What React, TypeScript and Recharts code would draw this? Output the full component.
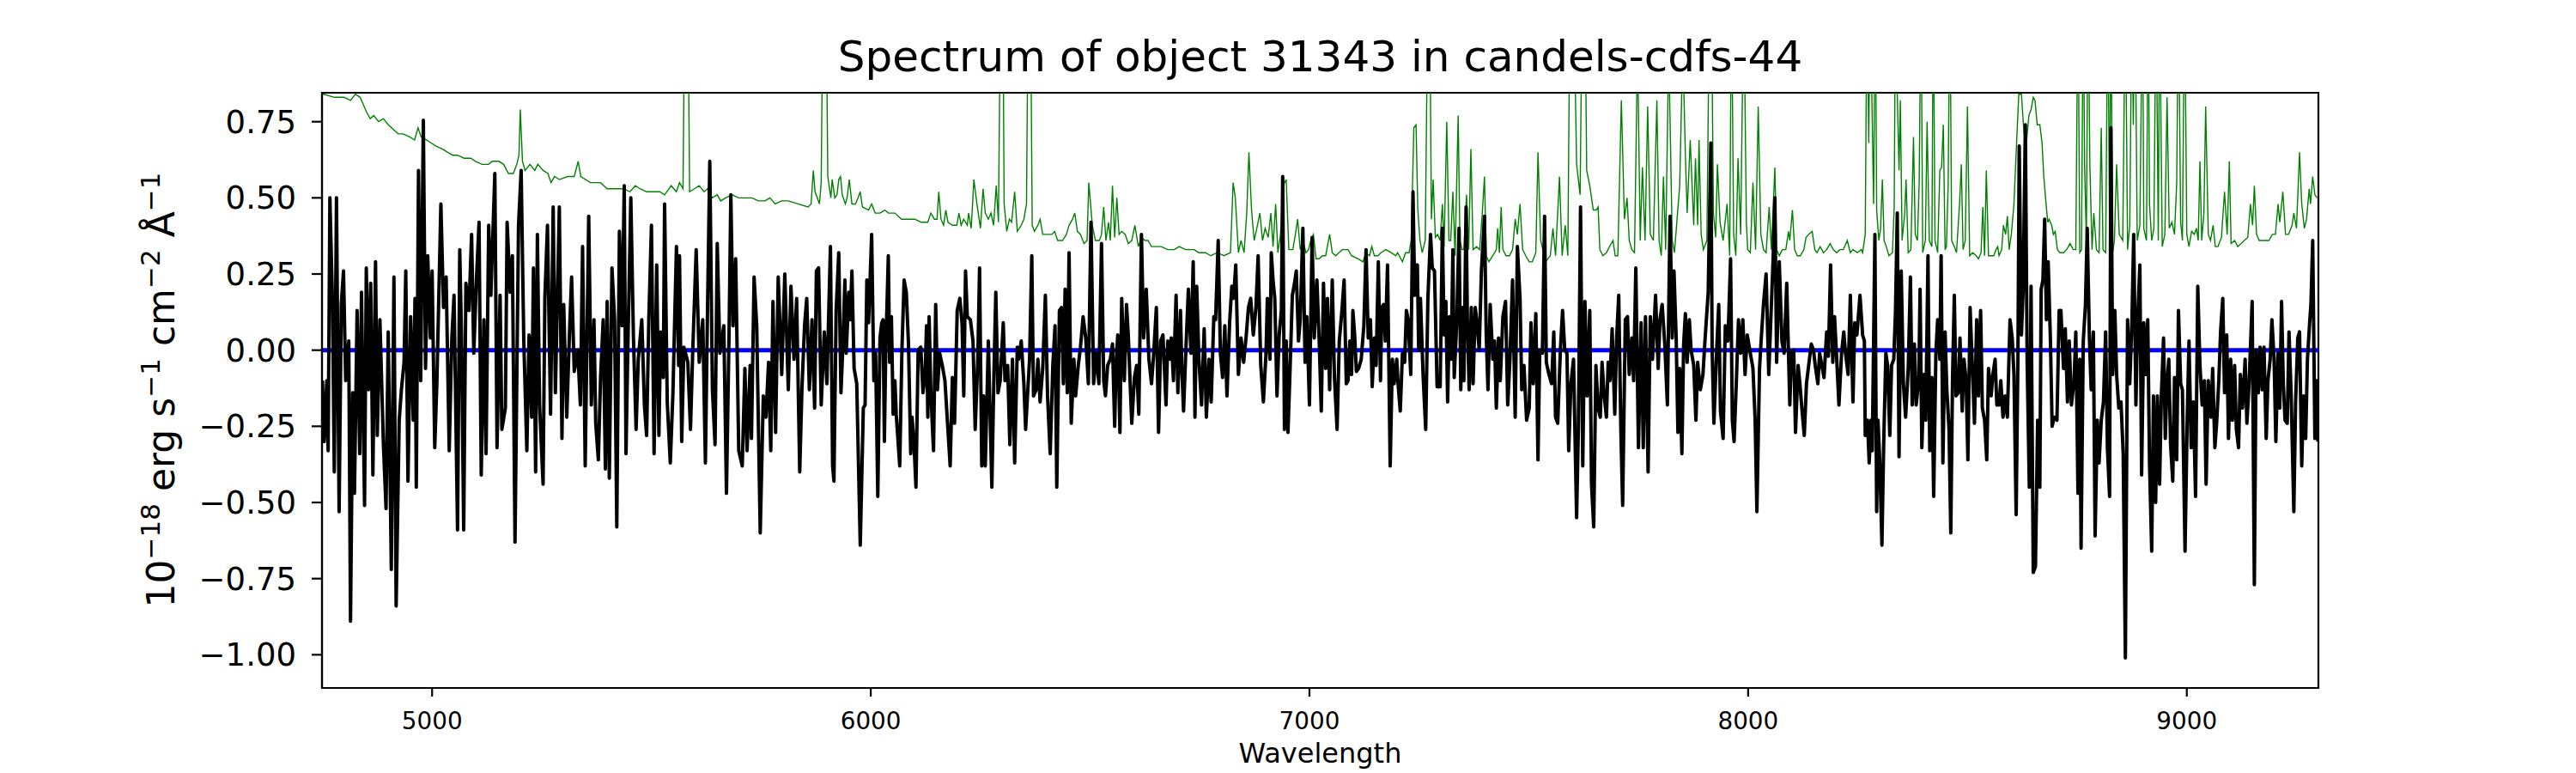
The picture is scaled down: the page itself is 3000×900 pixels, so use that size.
import React from 'react';
import { LineChart, Line, XAxis, YAxis, ReferenceArea } from 'recharts';

// Axis limits (Angstrom, 1e-18 erg/s/cm2/A)
const WAVE_MIN = 4749;
const WAVE_MAX = 9300;
const FLUX_MIN = -1.109;
const FLUX_MAX = 0.845;

const waveTicks = [5000, 6000, 7000, 8000, 9000];
const fluxTicks = [-1.0, -0.75, -0.5, -0.25, 0, 0.25, 0.5, 0.75];

const TITLE = 'Spectrum of object 31343 in candels-cdfs-44';
const X_LABEL = 'Wavelength';

// Observed flux (black), [wavelength, flux]
const fluxA = [[4750,-0.10],[4754,-0.30],[4760,-0.10],[4763,-0.33],[4767,0.50],[4773,0.15],[4777,-0.40],[4782,0.50],[4788,-0.53],[4793,0.15],[4798,0.26],[4803,-0.10],[4810,0.03],[4814,-0.89],[4819,-0.14],[4823,-0.47],[4829,0.13],[4835,-0.34],[4839,0.19],[4846,-0.51],[4850,0.27],[4855,-0.13],[4860,0.22],[4865,-0.41],[4871,0.29],[4875,-0.28],[4881,0.10],[4889,-0.31],[4895,-0.52],[4900,0.06],[4907,-0.72],[4913,0.24],[4918,-0.84],[4925,-0.23],[4930,-0.13],[4936,-0.04],[4940,0.26],[4945,-0.43],[4951,0.11],[4957,-0.23],[4961,0.17],[4964,-0.45],[4969,0.59],[4974,-0.10],[4980,0.755],[4985,-0.06],[4990,0.31],[4996,0.04],[5000,0.26],[5006,-0.32],[5011,-0.10],[5020,0.48],[5026,0.14],[5032,0.24],[5039,-0.33],[5045,0.04],[5050,0.18],[5058,-0.59],[5063,0.33],[5067,0.05],[5072,-0.59],[5077,0.22],[5084,0.13],[5090,0.38],[5095,-0.01],[5101,0.23],[5107,0.42],[5112,-0.41],[5118,0.10],[5123,-0.34],[5129,0.41],[5134,0.18],[5143,0.58],[5148,-0.32],[5155,0.18],[5159,-0.26],[5167,-0.19],[5171,0.42],[5178,0.19],[5183,0.31],[5189,-0.63],[5197,0.41],[5203,0.59],[5209,0.03],[5216,-0.33],[5221,0.05],[5227,-0.22],[5231,0.27],[5236,-0.40],[5240,0.38],[5245,-0.18],[5253,-0.44],[5257,0.17],[5263,0.41],[5270,-0.21],[5276,0.47],[5281,-0.14],[5290,0.47],[5296,-0.29],[5300,0.15],[5307,-0.22],[5313,0.05],[5318,0.24],[5324,-0.07],[5332,0.00],[5338,-0.18],[5343,0.34],[5349,-0.38],[5357,0.44],[5363,-0.18],[5369,0.10],[5373,-0.24],[5379,-0.36],[5384,-0.09],[5390,0.10],[5395,-0.39],[5399,0.16],[5404,-0.42],[5410,0.27],[5416,0.10],[5421,-0.58],[5427,0.39],[5433,0.08],[5438,0.54],[5442,-0.34],[5446,-0.01],[5453,0.50],[5459,0.04],[5465,-0.26],[5470,-0.03],[5478,0.10],[5484,-0.18],[5489,-0.28],[5494,0.10],[5500,0.41],[5506,-0.34],[5512,0.28],[5517,-0.28],[5521,0.06],[5527,-0.09],[5530,0.48],[5536,-0.17],[5543,-0.37],[5549,-0.14],[5557,0.34],[5562,-0.05],[5564,0.31],[5569,-0.30],[5574,0.01],[5583,-0.04],[5589,-0.26],[5594,-0.01],[5602,0.33],[5609,-0.04],[5617,0.10],[5623,-0.37],[5628,0.15],[5633,0.62],[5639,-0.13],[5645,-0.31],[5650,0.35],[5656,-0.01],[5665,0.08],[5671,-0.47],[5677,0.06],[5681,0.51],[5686,0.08],[5692,0.30],[5699,-0.33],[5707,-0.38],[5713,-0.06],[5718,-0.33],[5725,-0.05],[5728,-0.29],[5734,0.24],[5740,0.08],[5748,-0.60],[5755,-0.15],[5761,-0.22],[5767,-0.04],[5772,-0.33],[5777,0.16],[5783,-0.27],[5789,0.24],[5797,-0.08],[5804,0.25],[5812,-0.13],[5818,0.21],[5825,-0.03],[5831,0.17],[5838,-0.40],[5843,-0.13],[5849,0.08],[5854,0.17],[5860,-0.13],[5866,0.10],[5872,-0.19],[5876,0.26],[5881,0.27],[5887,-0.18],[5894,0.06],[5900,-0.11],[5908,0.34],[5913,-0.38]];

const fluxB = [[5916,-0.43],[5921,0.13],[5927,0.32],[5932,-0.14],[5936,0.00],[5941,0.23],[5944,-0.01],[5950,0.19],[5953,0.10],[5957,0.26],[5962,-0.06],[5968,-0.11],[5976,-0.64],[5983,-0.19],[5987,-0.18],[5991,0.23],[5995,0.09],[6002,0.38],[6007,-0.10],[6011,-0.01],[6016,-0.48],[6021,0.04],[6025,0.09],[6028,0.10],[6031,-0.30],[6034,-0.01],[6040,0.31],[6043,-0.04],[6047,0.11],[6051,-0.21],[6055,-0.10],[6058,-0.21],[6066,-0.38],[6071,0.00],[6076,0.23],[6081,0.19],[6086,0.02],[6091,-0.34],[6094,-0.22],[6098,-0.29],[6103,-0.45],[6108,0.00],[6114,0.01],[6119,-0.14],[6124,-0.08],[6127,0.08],[6130,-0.22],[6133,0.11],[6137,-0.14],[6143,-0.33],[6148,0.15],[6152,-0.13],[6157,-0.01],[6163,-0.05],[6169,-0.10],[6175,-0.24],[6181,-0.38],[6186,-0.09],[6191,-0.24],[6197,0.13],[6203,0.17],[6208,0.09],[6212,-0.15],[6216,0.26],[6220,0.11],[6227,0.10],[6233,0.03],[6238,-0.26],[6244,-0.03],[6248,0.27],[6253,-0.38],[6257,-0.15],[6261,-0.38],[6265,-0.15],[6268,0.03],[6276,-0.45],[6281,-0.06],[6285,0.19],[6290,-0.14],[6295,-0.10],[6302,0.09],[6306,-0.10],[6312,-0.05],[6317,-0.31],[6323,-0.03],[6328,-0.37],[6334,0.01],[6337,-0.03],[6343,0.03],[6349,-0.11],[6353,-0.26],[6358,-0.13],[6362,-0.03],[6367,0.31],[6371,-0.15],[6377,-0.13],[6381,-0.03],[6386,-0.17],[6392,-0.06],[6398,0.18],[6403,-0.15],[6409,-0.34],[6415,-0.05],[6420,0.08],[6424,-0.45],[6430,0.13],[6435,0.14],[6439,-0.11],[6443,0.20],[6448,-0.14],[6452,0.32],[6457,-0.24],[6463,-0.03],[6467,-0.15],[6473,-0.05],[6478,0.01],[6484,0.11],[6490,0.04],[6496,-0.11],[6502,0.42],[6508,-0.11],[6514,-0.01],[6520,-0.11],[6526,0.35],[6531,-0.10],[6535,-0.15],[6540,-0.05],[6546,-0.03],[6551,0.02],[6556,-0.25],[6559,-0.05],[6563,0.05],[6568,-0.27],[6572,0.17],[6578,-0.10],[6583,0.15],[6587,0.05],[6591,-0.10],[6595,-0.24],[6601,-0.09],[6606,-0.05],[6611,-0.21],[6617,0.38],[6622,0.04],[6628,0.20],[6634,-0.03],[6640,-0.11],[6645,-0.01],[6651,0.14],[6656,-0.27],[6661,0.03],[6666,0.05],[6673,-0.18],[6677,0.03],[6681,-0.03],[6685,0.04],[6690,-0.10],[6696,0.18],[6700,-0.14],[6706,0.13],[6709,-0.06],[6713,-0.20],[6718,-0.01],[6724,0.20],[6730,-0.01],[6735,0.29],[6739,-0.22],[6743,0.21],[6748,-0.03],[6754,-0.18],[6760,0.07],[6765,-0.22],[6771,-0.03],[6776,-0.17],[6782,0.11],[6786,0.10],[6792,0.36],[6797,-0.01],[6802,-0.09],[6807,0.08],[6812,-0.15],[6818,0.09],[6823,0.21],[6827,0.17],[6832,0.28],[6838,-0.08],[6844,0.04],[6850,-0.04],[6856,0.05],[6861,0.14],[6866,0.17],[6872,0.05],[6878,0.14],[6883,0.31],[6889,-0.05],[6895,-0.17],[6901,-0.01],[6904,0.17],[6910,-0.03],[6913,0.32],[6917,0.23],[6921,0.17],[6926,-0.15],[6931,0.05],[6936,0.13],[6939,0.57],[6943,-0.26],[6947,0.03],[6951,-0.27],[6955,-0.10],[6961,0.18],[6966,0.22],[6970,0.26],[6975,0.03],[6979,0.10],[6985,0.40],[6990,-0.04],[6994,0.11],[7000,-0.18],[7006,0.37],[7011,0.04],[7017,0.23],[7022,0.04],[7027,-0.20],[7032,0.22],[7037,-0.06],[7041,0.17],[7046,-0.13],[7052,0.23],[7057,-0.09],[7063,-0.26],[7068,0.03],[7074,0.13],[7079,0.23],[7084,-0.11]];

const fluxC = [[7088,-0.10],[7092,0.03],[7096,-0.08],[7099,0.13],[7103,0.05],[7107,-0.07],[7112,-0.06],[7118,-0.03],[7124,0.08],[7129,0.33],[7134,0.04],[7139,0.10],[7143,-0.12],[7148,0.04],[7152,-0.05],[7157,0.29],[7162,-0.10],[7165,0.14],[7169,0.15],[7173,0.03],[7178,0.28],[7184,-0.38],[7189,-0.03],[7193,-0.11],[7199,-0.03],[7202,-0.11],[7207,-0.20],[7212,-0.01],[7217,-0.04],[7221,0.13],[7225,0.10],[7231,-0.08],[7236,0.52],[7240,0.18],[7246,0.28],[7249,0.00],[7253,0.17],[7259,-0.08],[7265,-0.26],[7270,0.17],[7276,0.38],[7280,0.27],[7285,0.26],[7291,-0.12],[7298,-0.12],[7303,0.40],[7307,0.05],[7311,0.16],[7315,-0.17],[7319,0.11],[7323,-0.03],[7327,0.33],[7330,-0.09],[7336,0.10],[7341,0.40],[7345,-0.13],[7348,0.14],[7352,-0.10],[7357,0.47],[7360,0.10],[7364,-0.13],[7369,0.14],[7373,-0.11],[7378,0.14],[7382,0.09],[7387,0.00],[7392,0.26],[7399,0.44],[7403,0.05],[7407,-0.13],[7412,0.15],[7418,-0.03],[7422,0.03],[7426,-0.19],[7431,0.04],[7435,-0.10],[7441,0.11],[7447,0.16],[7452,-0.18],[7457,-0.03],[7463,0.23],[7469,-0.22],[7474,0.34],[7480,0.17],[7484,-0.13],[7489,-0.05],[7495,-0.23],[7501,-0.19],[7505,0.09],[7510,-0.11],[7516,0.12],[7521,-0.36],[7525,0.00],[7531,-0.01],[7536,0.44],[7540,-0.04],[7546,-0.08],[7552,-0.11],[7557,0.06],[7561,-0.22],[7566,-0.24],[7572,0.00],[7577,0.13],[7582,0.00],[7587,-0.01],[7591,-0.33],[7596,-0.11],[7602,-0.03],[7609,-0.55],[7613,-0.26],[7618,0.47],[7623,-0.38],[7628,0.16],[7633,-0.15],[7639,0.13],[7643,-0.44],[7648,-0.58],[7653,-0.05],[7658,-0.19],[7663,-0.22],[7667,-0.04],[7672,-0.15],[7677,-0.22],[7681,-0.04],[7685,-0.10],[7690,0.07],[7696,-0.21],[7700,0.03],[7705,0.18],[7710,-0.27],[7714,-0.51],[7720,0.10],[7725,0.11],[7729,-0.08],[7735,0.04],[7739,-0.10],[7744,0.27],[7750,-0.32],[7756,0.09],[7761,-0.32],[7766,0.11],[7772,-0.40],[7777,0.11],[7782,-0.03],[7789,0.18],[7795,-0.06],[7799,0.10],[7804,0.15],[7810,0.02],[7816,-0.18],[7822,0.44],[7827,0.04],[7831,0.26],[7836,0.04],[7840,-0.27],[7844,-0.06],[7849,-0.34],[7853,0.02],[7857,0.12],[7861,-0.04],[7866,0.10],[7870,0.00],[7876,-0.05],[7881,-0.23],[7885,-0.04],[7891,-0.13],[7897,-0.08],[7902,0.04],[7909,0.19],[7915,0.68],[7918,0.00],[7922,-0.24],[7928,-0.01],[7933,0.15],[7937,-0.20],[7943,-0.29],[7948,0.08],[7954,0.03],[7960,0.30],[7964,-0.23],[7968,-0.30],[7973,-0.11],[7978,0.10],[7983,-0.01],[7988,0.10],[7993,-0.08],[7998,0.05],[8005,-0.01],[8011,-0.06],[8016,-0.23],[8020,-0.53],[8026,-0.06],[8030,0.04],[8035,0.15],[8041,0.25],[8047,-0.08],[8052,0.11],[8057,0.30],[8061,0.50],[8065,-0.04],[8071,0.29],[8077,0.03],[8082,-0.01],[8088,0.22],[8092,-0.01],[8095,-0.18],[8099,-0.01],[8104,0.00],[8108,-0.27],[8114,-0.05],[8118,-0.11],[8123,-0.20],[8128,-0.28],[8133,-0.11],[8138,-0.05],[8144,0.02],[8149,0.00],[8153,-0.05],[8159,-0.11],[8163,-0.01],[8168,-0.05],[8173,-0.09],[8179,0.06],[8183,-0.02],[8188,0.28],[8193,-0.04],[8197,0.11],[8202,-0.03],[8207,-0.18],[8213,-0.01],[8218,0.06],[8222,-0.01],[8228,-0.08],[8233,0.18],[8239,-0.17],[8243,0.09],[8248,0.05],[8255,0.18],[8261,0.05]];

const fluxD = [[8265,0.03],[8267,-0.28],[8272,-0.23],[8276,-0.37],[8280,-0.23],[8283,-0.33],[8289,0.38],[8293,-0.53],[8296,-0.23],[8300,-0.36],[8305,-0.64],[8309,-0.31],[8314,-0.01],[8318,-0.05],[8323,-0.28],[8327,-0.05],[8332,-0.03],[8336,0.13],[8340,0.45],[8344,-0.35],[8349,0.26],[8354,-0.11],[8359,-0.22],[8365,-0.06],[8370,0.24],[8374,-0.18],[8379,0.02],[8383,-0.18],[8389,-0.10],[8392,0.20],[8396,-0.32],[8401,-0.08],[8405,-0.23],[8410,0.31],[8414,-0.33],[8419,-0.09],[8423,-0.48],[8428,-0.01],[8432,0.10],[8437,-0.03],[8440,0.31],[8444,-0.37],[8449,0.06],[8453,-0.13],[8458,-0.26],[8462,-0.60],[8466,-0.09],[8470,0.18],[8474,-0.15],[8479,-0.14],[8483,0.04],[8488,-0.20],[8492,-0.03],[8497,-0.10],[8501,-0.36],[8506,0.14],[8511,-0.05],[8516,-0.24],[8521,0.10],[8525,-0.15],[8530,0.13],[8534,-0.19],[8539,-0.23],[8544,-0.36],[8548,-0.06],[8554,-0.15],[8558,-0.08],[8563,-0.03],[8567,-0.18],[8572,-0.18],[8576,-0.10],[8581,-0.22],[8586,-0.15],[8591,-0.22],[8597,0.10],[8602,0.04],[8606,-0.08],[8611,-0.54],[8615,-0.03],[8618,0.67],[8623,0.05],[8627,0.20],[8632,0.74],[8636,-0.03],[8641,-0.45],[8645,0.21],[8650,-0.73],[8655,-0.71],[8660,-0.23],[8665,-0.45],[8668,0.20],[8672,0.23],[8676,0.43],[8680,0.10],[8684,0.29],[8689,0.04],[8693,-0.25],[8698,-0.22],[8704,-0.23],[8709,0.13],[8713,0.13],[8719,-0.06],[8723,0.07],[8728,-0.17],[8732,0.03],[8737,-0.18],[8743,-0.10],[8747,0.06],[8752,-0.47],[8756,-0.03],[8759,-0.65],[8764,0.03],[8769,0.15],[8773,0.40],[8778,0.04],[8782,-0.13],[8787,0.06],[8791,-0.61],[8796,-0.23],[8800,-0.37],[8805,-0.23],[8810,-0.17],[8815,0.06],[8819,-0.32],[8824,-0.48],[8827,0.73],[8831,-0.08],[8836,0.13],[8840,-0.08],[8845,-0.19],[8850,-0.17],[8855,-0.34],[8860,-1.01],[8865,0.10],[8870,-0.11],[8875,0.10],[8879,0.38],[8884,-0.18],[8888,0.10],[8893,0.28],[8897,-0.41],[8902,0.09],[8906,-0.08],[8911,0.10],[8915,-0.37],[8920,-0.66],[8924,-0.15],[8929,-0.50],[8933,-0.15],[8938,-0.44],[8942,-0.15],[8947,0.04],[8951,-0.29],[8955,-0.10],[8959,-0.03],[8963,-0.31],[8968,-0.43],[8972,-0.09],[8977,-0.36],[8981,0.13],[8986,-0.11],[8990,-0.13],[8996,-0.66],[9001,-0.22],[9005,0.03],[9010,-0.32],[9015,-0.17],[9020,-0.48],[9025,0.21],[9030,-0.05],[9035,-0.18],[9040,-0.10],[9044,-0.44],[9049,-0.10],[9055,-0.22],[9059,-0.06],[9064,-0.32],[9068,-0.24],[9073,-0.10],[9077,0.06],[9082,0.17],[9086,-0.14],[9091,0.05],[9095,-0.29],[9100,-0.03],[9104,-0.23],[9109,-0.05],[9113,-0.26],[9118,-0.32],[9122,-0.08],[9127,-0.19],[9133,-0.03],[9137,-0.24],[9142,-0.11],[9149,0.16],[9154,-0.77],[9158,0.00],[9163,-0.14],[9167,0.01],[9172,-0.13],[9176,0.01],[9181,-0.29],[9185,-0.10],[9190,-0.03],[9194,0.10],[9199,-0.03],[9203,-0.30],[9208,-0.01],[9212,-0.19],[9216,0.16],[9220,-0.11],[9224,-0.23],[9229,-0.24],[9233,0.06],[9238,-0.15],[9244,-0.53],[9248,-0.17],[9253,0.04],[9257,0.06],[9262,-0.38],[9266,-0.15],[9271,-0.29],[9275,-0.03],[9280,0.09],[9283,0.15],[9287,0.36],[9292,-0.29],[9296,-0.10],[9299,-0.30]];

// Noise / sky spectrum (green), [wavelength, flux]; spikes above the frame are clipped
const sigmaA = [[4750,0.84],[4754,0.84],[4777,0.83],[4799,0.83],[4814,0.82],[4825,0.84],[4836,0.83],[4851,0.78],[4859,0.76],[4867,0.77],[4878,0.75],[4889,0.76],[4900,0.74],[4915,0.72],[4923,0.71],[4934,0.71],[4949,0.70],[4960,0.69],[4968,0.73],[4975,0.70],[4987,0.69],[4998,0.68],[5009,0.67],[5024,0.66],[5035,0.65],[5047,0.64],[5058,0.64],[5073,0.63],[5088,0.63],[5099,0.62],[5114,0.61],[5129,0.61],[5137,0.62],[5152,0.62],[5163,0.61],[5174,0.58],[5185,0.58],[5193,0.61],[5198,0.64],[5201,0.79],[5206,0.62],[5212,0.59],[5223,0.61],[5234,0.59],[5241,0.61],[5253,0.59],[5264,0.58],[5271,0.55],[5279,0.57],[5290,0.56],[5309,0.57],[5324,0.57],[5333,0.62],[5339,0.57],[5361,0.55],[5384,0.55],[5399,0.53],[5414,0.53],[5436,0.53],[5451,0.52],[5463,0.54],[5474,0.53],[5489,0.52],[5504,0.52],[5519,0.52],[5530,0.51],[5545,0.54],[5557,0.52],[5564,0.55],[5572,0.53],[5576,1.2],[5583,1.2],[5587,0.52],[5598,0.53],[5609,0.54],[5620,0.52],[5628,0.53],[5639,0.50],[5650,0.51],[5658,0.49],[5669,0.50],[5684,0.51],[5699,0.50],[5714,0.50],[5729,0.50],[5744,0.49],[5759,0.49],[5770,0.50],[5782,0.48],[5797,0.49],[5812,0.49],[5834,0.48],[5857,0.47],[5864,0.48],[5869,0.59],[5873,0.52],[5883,0.48],[5887,0.55],[5891,1.2],[5898,1.2],[5902,0.57],[5909,0.50]];

const sigmaB = [[5912,0.56],[5918,0.50],[5923,0.51],[5927,0.56],[5931,0.57],[5935,0.51],[5942,0.48],[5946,0.50],[5951,0.56],[5957,0.48],[5965,0.48],[5971,0.50],[5976,0.52],[5981,0.47],[5995,0.46],[6002,0.48],[6010,0.45],[6021,0.45],[6032,0.46],[6040,0.45],[6055,0.45],[6070,0.43],[6085,0.43],[6100,0.43],[6115,0.42],[6130,0.42],[6137,0.45],[6145,0.43],[6151,0.43],[6155,0.52],[6160,0.43],[6166,0.41],[6171,0.46],[6176,0.42],[6186,0.41],[6196,0.41],[6201,0.45],[6206,0.41],[6212,0.43],[6220,0.41],[6223,0.45],[6229,0.40],[6235,0.56],[6242,0.48],[6250,0.40],[6256,0.53],[6261,0.45],[6268,0.43],[6274,0.45],[6280,0.41],[6286,0.54],[6291,0.42],[6296,1.2],[6301,1.2],[6304,0.48],[6310,0.39],[6316,0.43],[6321,0.42],[6328,0.52],[6334,0.39],[6343,0.41],[6349,0.43],[6355,0.48],[6359,1.2],[6364,1.2],[6368,0.41],[6373,0.39],[6381,0.41],[6386,0.43],[6392,0.38],[6403,0.38],[6413,0.38],[6419,0.39],[6426,0.36],[6437,0.36],[6446,0.38],[6452,0.41],[6460,0.43],[6465,0.45],[6471,0.39],[6478,0.38],[6486,0.35],[6493,0.36],[6497,0.55],[6505,0.41],[6512,0.36],[6521,0.36],[6526,0.38],[6531,0.47],[6536,0.36],[6542,0.42],[6546,0.36],[6551,0.54],[6556,0.37],[6561,0.50],[6566,0.38],[6572,0.39],[6580,0.38],[6587,0.35],[6595,0.36],[6602,0.41],[6610,0.34],[6617,0.37],[6625,0.36],[6632,0.36],[6640,0.34],[6651,0.34],[6662,0.34],[6677,0.33],[6692,0.33],[6703,0.34],[6718,0.33],[6730,0.33],[6737,0.33],[6748,0.32],[6763,0.32],[6775,0.31],[6790,0.32],[6805,0.31],[6820,0.32],[6826,0.55],[6831,0.50],[6838,0.32],[6844,0.36],[6851,0.32],[6857,0.45],[6862,0.65],[6868,0.46],[6874,0.36],[6880,0.40],[6887,0.45],[6893,0.36],[6899,0.40],[6906,0.37],[6912,0.45],[6917,0.34],[6923,0.48],[6928,0.32],[6934,0.38],[6940,0.54],[6947,0.56],[6953,0.33],[6962,0.33],[6968,0.38],[6973,0.43],[6979,0.33],[6985,0.36],[6992,0.32],[6998,0.33],[7003,0.36],[7009,0.38],[7015,0.30],[7022,0.30],[7030,0.31],[7037,0.31],[7046,0.38],[7052,0.32],[7060,0.31],[7067,0.32],[7075,0.33],[7082,0.33]];

const sigmaC = [[7088,0.33],[7096,0.31],[7111,0.30],[7122,0.29],[7129,0.32],[7137,0.31],[7142,0.34],[7148,0.31],[7156,0.31],[7163,0.32],[7174,0.33],[7186,0.32],[7197,0.31],[7201,0.32],[7212,0.29],[7219,0.32],[7227,0.32],[7232,0.36],[7238,0.73],[7243,0.74],[7247,0.46],[7252,0.36],[7257,0.32],[7264,0.36],[7270,1.2],[7274,1.2],[7278,0.43],[7282,0.56],[7287,0.37],[7292,0.38],[7298,0.36],[7303,0.48],[7307,0.34],[7313,0.75],[7318,0.36],[7322,0.36],[7327,0.52],[7332,0.31],[7339,0.77],[7343,0.36],[7348,0.33],[7352,0.33],[7358,0.51],[7363,0.33],[7368,0.66],[7373,0.33],[7381,0.34],[7388,0.33],[7394,0.45],[7399,0.57],[7403,0.31],[7409,0.29],[7418,0.31],[7426,0.33],[7429,0.40],[7433,0.32],[7437,0.47],[7441,0.33],[7448,0.31],[7456,0.31],[7463,0.33],[7469,0.43],[7474,0.38],[7480,0.48],[7486,0.33],[7493,0.31],[7501,0.29],[7508,0.29],[7516,0.32],[7521,0.65],[7527,0.36],[7532,0.33],[7538,0.29],[7549,0.31],[7555,0.40],[7561,0.31],[7570,0.57],[7576,0.31],[7583,0.41],[7589,0.31],[7594,1.2],[7602,1.2],[7609,0.61],[7617,0.51],[7622,1.2],[7628,1.2],[7632,0.59],[7639,0.54],[7647,0.46],[7654,0.46],[7658,0.47],[7662,0.33],[7669,0.31],[7677,0.32],[7684,0.34],[7692,0.36],[7697,0.31],[7703,0.31],[7711,0.82],[7718,0.43],[7724,0.50],[7729,0.36],[7735,0.33],[7741,0.32],[7748,1.0],[7754,0.36],[7759,0.60],[7765,0.36],[7771,0.80],[7777,0.38],[7784,0.36],[7792,0.82],[7797,0.36],[7802,0.31],[7807,0.57],[7812,0.33],[7819,1.0],[7827,0.36],[7832,0.32],[7838,0.43],[7844,0.54],[7851,1.0],[7857,0.64],[7861,0.45],[7868,0.69],[7876,0.41],[7880,0.63],[7885,0.41],[7888,0.69],[7893,0.38],[7898,0.33],[7906,0.36],[7912,1.2],[7916,1.2],[7921,0.45],[7926,0.37],[7930,0.61],[7936,0.42],[7943,0.36],[7952,0.48],[7958,0.31],[7962,1.2],[7967,0.38],[7972,0.31],[7977,0.63],[7983,0.38],[7990,1.2],[7996,0.42],[7999,0.33],[8005,0.32],[8011,0.55],[8017,0.33],[8023,0.80],[8029,0.38],[8035,0.33],[8041,0.32],[8048,0.47],[8053,0.33],[8061,0.60],[8065,0.33],[8071,0.31],[8078,0.33],[8086,0.33],[8092,0.39],[8095,0.36],[8101,0.46],[8106,0.33],[8112,0.31],[8119,0.31],[8127,0.33],[8132,0.37],[8138,0.38],[8146,0.39],[8152,0.33],[8157,0.32],[8164,0.34],[8172,0.32],[8179,0.33],[8187,0.35],[8194,0.33],[8202,0.32],[8209,0.33],[8217,0.33],[8226,0.36],[8233,0.32],[8239,0.33],[8249,0.32],[8258,0.33]];

const sigmaD = [[8261,0.32],[8267,0.38],[8271,1.2],[8275,0.68],[8278,1.2],[8282,0.84],[8286,0.48],[8290,1.2],[8293,0.46],[8298,0.36],[8302,0.40],[8306,0.56],[8310,0.36],[8315,0.34],[8321,0.31],[8329,0.32],[8333,0.47],[8336,1.2],[8340,0.84],[8344,0.59],[8347,0.82],[8351,0.36],[8357,0.45],[8360,0.56],[8365,0.32],[8371,0.33],[8377,0.70],[8381,0.38],[8386,0.36],[8390,0.55],[8394,1.2],[8398,0.32],[8404,0.36],[8408,0.75],[8413,0.36],[8419,0.34],[8422,1.2],[8426,0.36],[8432,0.32],[8437,0.59],[8441,0.60],[8445,0.74],[8449,0.33],[8452,0.34],[8456,0.54],[8460,1.2],[8464,0.36],[8470,0.34],[8475,0.32],[8482,0.48],[8486,0.61],[8490,0.33],[8495,0.36],[8500,0.80],[8505,0.31],[8512,0.32],[8520,0.31],[8525,0.30],[8531,0.32],[8535,0.47],[8539,0.31],[8543,0.59],[8548,0.31],[8554,0.31],[8560,0.31],[8565,0.33],[8569,0.34],[8572,0.31],[8578,0.33],[8582,0.41],[8587,0.38],[8591,0.44],[8595,0.33],[8600,0.38],[8606,0.48],[8612,0.68],[8617,0.84],[8623,0.84],[8629,0.71],[8635,0.69],[8640,0.77],[8645,0.79],[8650,0.83],[8654,0.82],[8659,0.74],[8665,0.74],[8670,0.68],[8674,0.57],[8678,0.50],[8683,0.42],[8686,0.43],[8692,0.41],[8696,0.38],[8700,0.39],[8705,0.33],[8711,0.32],[8719,0.32],[8726,0.33],[8734,0.35],[8741,0.33],[8747,0.33],[8752,1.2],[8756,0.32],[8760,0.33],[8764,1.2],[8767,0.61],[8771,0.36],[8775,1.2],[8779,0.61],[8784,0.33],[8788,0.45],[8794,0.33],[8800,0.32],[8805,0.73],[8809,0.33],[8815,0.32],[8820,1.2],[8824,0.36],[8827,1.2],[8831,0.32],[8835,0.36],[8840,0.61],[8846,0.38],[8854,0.36],[8860,1.2],[8865,0.33],[8870,0.41],[8875,1.2],[8878,0.74],[8882,1.2],[8887,0.36],[8893,0.41],[8899,1.2],[8902,0.40],[8908,0.36],[8912,1.2],[8915,0.48],[8920,0.36],[8925,0.40],[8930,1.2],[8935,0.36],[8938,1.2],[8944,0.34],[8950,0.38],[8955,0.83],[8960,0.40],[8966,0.42],[8972,0.38],[8977,0.55],[8981,1.2],[8986,0.42],[8990,0.36],[8995,1.2],[9000,0.38],[9005,0.34],[9011,0.39],[9017,0.38],[9022,0.40],[9026,0.36],[9030,0.62],[9034,0.36],[9039,0.45],[9043,0.80],[9049,0.38],[9054,0.36],[9060,0.41],[9065,0.34],[9071,0.34],[9079,0.37],[9086,0.52],[9092,0.38],[9097,0.62],[9101,0.35],[9109,0.36],[9116,0.34],[9124,0.35],[9131,0.36],[9139,0.37],[9145,0.48],[9150,0.41],[9154,0.54],[9159,0.38],[9165,0.36],[9172,0.36],[9180,0.36],[9187,0.36],[9195,0.38],[9202,0.38],[9208,0.48],[9212,0.42],[9219,0.52],[9225,0.38],[9232,0.38],[9240,0.41],[9244,0.45],[9250,0.40],[9257,0.65],[9262,0.48],[9268,0.40],[9273,0.43],[9279,0.53],[9282,0.48],[9287,0.57],[9292,0.51],[9297,0.50]];

// Zero level (blue)
const zeroLevel = [[WAVE_MIN, 0], [WAVE_MAX, 0]];

const toRows = (pts: number[][]) => pts.map(([w, f]) => ({ w, f }));
const fluxRows = toRows([...fluxA, ...fluxB, ...fluxC, ...fluxD]);
const sigmaRows = toRows([...sigmaA, ...sigmaB, ...sigmaC, ...sigmaD]);
const zeroRows = toRows(zeroLevel);

const FONT = 'DejaVu Sans, sans-serif';
const fmtFlux = (v: number) => v.toFixed(2).replace('-', '\u2212');

export default function App() {
  const spine = { stroke: '#000', strokeWidth: 2.2 };
  return (
    <div style={{ position: 'absolute', left: 0, top: 0, width: 3000, height: 900, background: '#fff' }}>
      <LineChart
        width={3000}
        height={900}
        margin={{ top: 108, right: 300, bottom: 39, left: 255 }}
        style={{ fontFamily: FONT }}
      >
        <XAxis
          dataKey="w"
          type="number"
          domain={[WAVE_MIN, WAVE_MAX]}
          allowDataOverflow
          ticks={waveTicks}
          height={60}
          tickSize={10}
          tickMargin={18}
          tick={{ fill: '#000', fontSize: 27.8, fontFamily: FONT }}
          tickLine={{ stroke: '#000', strokeWidth: 2.2 }}
          axisLine={spine}
        />
        <YAxis
          type="number"
          domain={[FLUX_MIN, FLUX_MAX]}
          allowDataOverflow
          ticks={fluxTicks}
          tickFormatter={fmtFlux}
          width={120}
          tickSize={12}
          tickMargin={18}
          tick={{ fill: '#000', fontSize: 37, fontFamily: FONT }}
          tickLine={{ stroke: '#000', strokeWidth: 2.2 }}
          axisLine={spine}
        />
        <ReferenceArea
          x1={WAVE_MIN}
          x2={WAVE_MAX}
          y1={FLUX_MIN}
          y2={FLUX_MAX}
          fill="none"
          fillOpacity={0}
          stroke="#000"
          strokeWidth={2.2}
          strokeOpacity={1}
          ifOverflow="visible"
        />
        <Line
          data={sigmaRows}
          dataKey="f"
          type="linear"
          stroke="#008000"
          strokeWidth={1.4}
          dot={false}
          activeDot={false}
          isAnimationActive={false}
        />
        <Line
          data={zeroRows}
          dataKey="f"
          type="linear"
          stroke="#0000ff"
          strokeWidth={5}
          dot={false}
          activeDot={false}
          isAnimationActive={false}
        />
        <Line
          data={fluxRows}
          dataKey="f"
          type="linear"
          stroke="#000"
          strokeWidth={4}
          strokeLinejoin="round"
          dot={false}
          activeDot={false}
          isAnimationActive={false}
        />
      </LineChart>
      <svg
        width={3000}
        height={900}
        style={{ position: 'absolute', left: 0, top: 0, pointerEvents: 'none', fontFamily: FONT }}
      >
        <text x={1537.5} y={83} textAnchor="middle" fontSize={50} fill="#000">{TITLE}</text>
        <text x={1537.5} y={888} textAnchor="middle" fontSize={32} fill="#000">{X_LABEL}</text>
        <text transform="translate(203,454) rotate(-90)" textAnchor="middle" fontSize={44} fill="#000">
          <tspan>10</tspan>
          <tspan dy={-17} fontSize={31}>{'\u221218'}</tspan>
          <tspan dy={17}>{' erg s'}</tspan>
          <tspan dy={-17} fontSize={31}>{'\u22121'}</tspan>
          <tspan dy={17}>{' cm'}</tspan>
          <tspan dy={-17} fontSize={31}>{'\u22122'}</tspan>
          <tspan dy={17}>{' \u00c5'}</tspan>
          <tspan dy={-17} fontSize={31}>{'\u22121'}</tspan>
        </text>
      </svg>
    </div>
  );
}
